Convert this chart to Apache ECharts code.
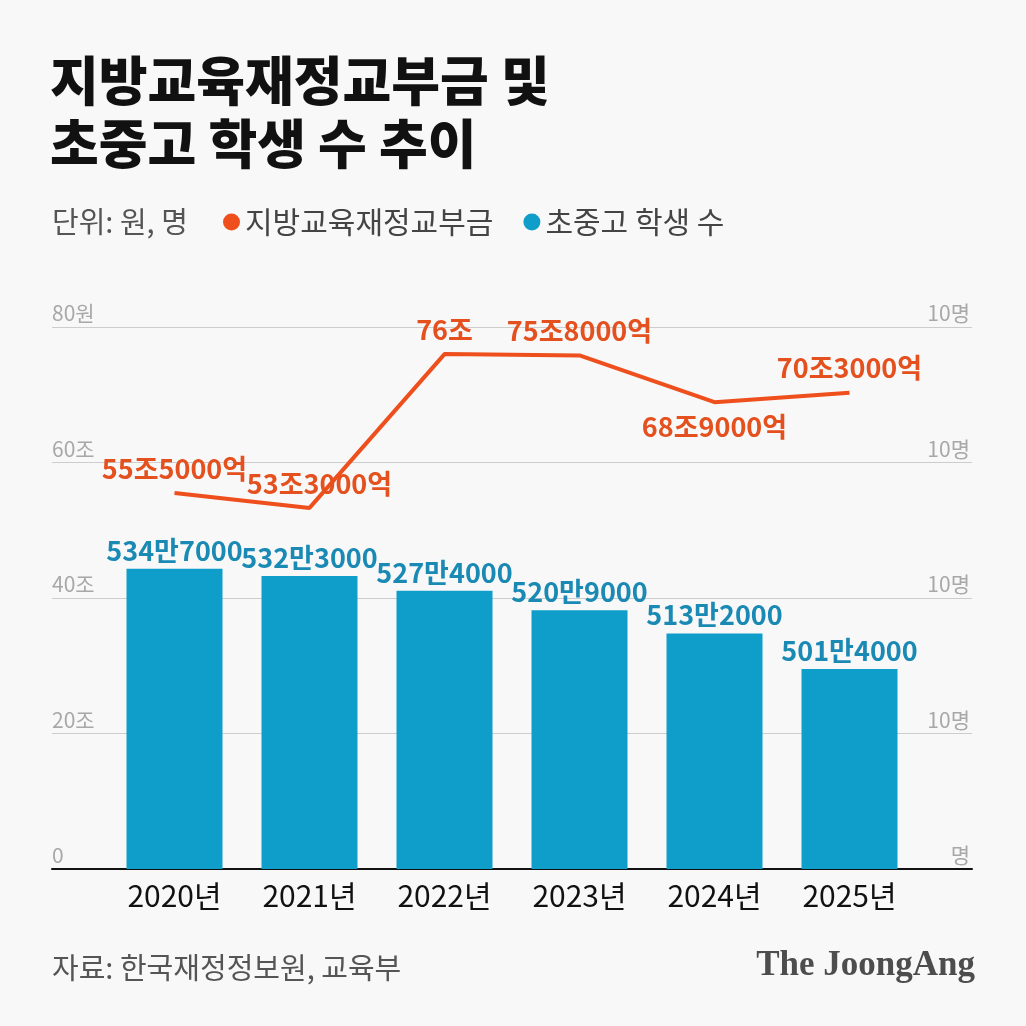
<!DOCTYPE html>
<html>
<head>
<meta charset="utf-8">
<script src="https://cdn.jsdelivr.net/npm/echarts@6/dist/echarts.min.js"></script>
<style>
  html, body { margin: 0; padding: 0; background: #f8f8f8; }
  #chart { width: 1026px; height: 1026px; }
</style>
</head>
<body>
<div id="chart"></div>
<script>
// 연도
const years = ['2020년', '2021년', '2022년', '2023년', '2024년', '2025년'];
// 지방교육재정교부금 (조 원)
const grantValues = [55.5, 53.3, 76, 75.8, 68.9, 70.3];
const grantLabels = ['55조5000억', '53조3000억', '76조', '75조8000억', '68조9000억', '70조3000억'];
// 초중고 학생 수 (만 명)
const studentValues = [534.7, 532.3, 527.4, 520.9, 513.2, 501.4];
const studentLabels = ['534만7000', '532만3000', '527만4000', '520만9000', '513만2000', '501만4000'];
// 축 눈금 글자 (원본 그대로)
const leftTicks = ['0', '20조', '40조', '60조', '80원'];
const rightTicks = ['명', '10명', '10명', '10명', '10명'];

const FONT = '"Noto Sans CJK KR", "Noto Sans", sans-serif';
const ORANGE = '#ee4f1c';
const BLUE = '#0e9ec9';

let myChart = echarts.init(document.getElementById('chart'));

myChart.setOption({
    backgroundColor: '#f8f8f8',
    animation: false,
    textStyle: {fontFamily: FONT},
    title: [
        {
            text: '지방교육재정교부금 및\n초중고 학생 수 추이',
            left: 50, top: 49, padding: 0,
            textStyle: {fontFamily: FONT, fontSize: 53, fontWeight: 900, color: '#111', lineHeight: 63}
        },
        {
            text: '단위: 원, 명',
            left: 52, top: 207, padding: 0,
            textStyle: {fontFamily: FONT, fontSize: 29, fontWeight: 'normal', color: '#555'}
        },
        {
            text: '자료: 한국재정정보원, 교육부',
            left: 52, top: 953, padding: 0,
            textStyle: {fontFamily: FONT, fontSize: 29, fontWeight: 'normal', color: '#555'}
        },
        {
            text: 'The JoongAng',
            right: 51, top: 948, padding: 0,
            textStyle: {fontFamily: '"Liberation Serif", "DejaVu Serif", serif', fontSize: 35, fontWeight: 'bold', color: '#4d4d4d'}
        }
    ],
    legend: {
        left: 223, top: 207, padding: 0,
        itemWidth: 17, itemHeight: 17, itemGap: 30,
        textStyle: {fontFamily: FONT, fontSize: 30, color: '#444', padding: [0, 0, 0, 0]},
        data: [
            {name: '지방교육재정교부금', icon: 'circle', itemStyle: {color: ORANGE}},
            {name: '초중고 학생 수', icon: 'circle', itemStyle: {color: BLUE}}
        ]
    },
    grid: [
        // 데이터가 놓이는 격자
        {left: 107, right: 109, top: 327, bottom: 157},
        // 눈금선과 축 글자용 넓은 격자
        {left: 52, right: 54, top: 327, bottom: 157}
    ],
    xAxis: [
        {
            type: 'category', gridIndex: 0, data: years,
            axisLine: {show: false}, axisTick: {show: false},
            axisLabel: {fontFamily: FONT, fontSize: 30, color: '#111', margin: 12}
        },
        {
            type: 'value', gridIndex: 1, min: 0, max: 1,
            axisLine: {show: true, lineStyle: {color: '#111', width: 2}},
            axisTick: {show: false}, axisLabel: {show: false}, splitLine: {show: false}
        }
    ],
    yAxis: [
        {type: 'value', gridIndex: 0, min: 0, max: 80, interval: 20, show: false},
        {type: 'value', gridIndex: 0, min: 435, max: 615, interval: 45, show: false},
        {
            type: 'value', gridIndex: 1, position: 'left', min: 0, max: 80, interval: 20,
            axisLine: {show: false}, axisTick: {show: false},
            splitLine: {lineStyle: {color: '#cdcdcd', width: 1}},
            axisLabel: {
                inside: true, margin: 0, verticalAlign: 'bottom', padding: [0, 0, 3, 0],
                fontFamily: FONT, fontSize: 21, color: '#a8a8a8',
                formatter: (v, i) => leftTicks[i]
            }
        },
        {
            type: 'value', gridIndex: 1, position: 'right', min: 435, max: 615, interval: 45,
            axisLine: {show: false}, axisTick: {show: false}, splitLine: {show: false},
            axisLabel: {
                inside: true, margin: 2, verticalAlign: 'bottom', padding: [0, 0, 3, 0],
                fontFamily: FONT, fontSize: 21, color: '#a8a8a8',
                formatter: (v, i) => rightTicks[i]
            }
        }
    ],
    series: [
        {
            name: '초중고 학생 수',
            type: 'bar',
            xAxisIndex: 0, yAxisIndex: 1,
            barWidth: 96,
            itemStyle: {color: BLUE},
            data: studentValues,
            label: {
                show: true, position: 'top', distance: 5,
                fontFamily: FONT, fontSize: 27, fontWeight: 'bold', color: '#1a8ab5',
                formatter: (p) => studentLabels[p.dataIndex]
            }
        },
        {
            name: '지방교육재정교부금',
            type: 'line',
            xAxisIndex: 0, yAxisIndex: 0,
            showSymbol: true,
            symbol: 'circle',
            symbolSize: 0,
            lineStyle: {color: ORANGE, width: 4},
            itemStyle: {color: ORANGE},
            data: grantValues.map((v, i) => ({
                value: v,
                label: {
                    position: i === 4 ? 'bottom' : 'top',
                    offset: i === 1 ? [10, 0] : [0, 0]
                }
            })),
            label: {
                show: true, distance: 11,
                fontFamily: FONT, fontSize: 27, fontWeight: 'bold', color: '#e4501e',
                formatter: (p) => grantLabels[p.dataIndex]
            }
        }
    ]
});
</script>
</body>
</html>
